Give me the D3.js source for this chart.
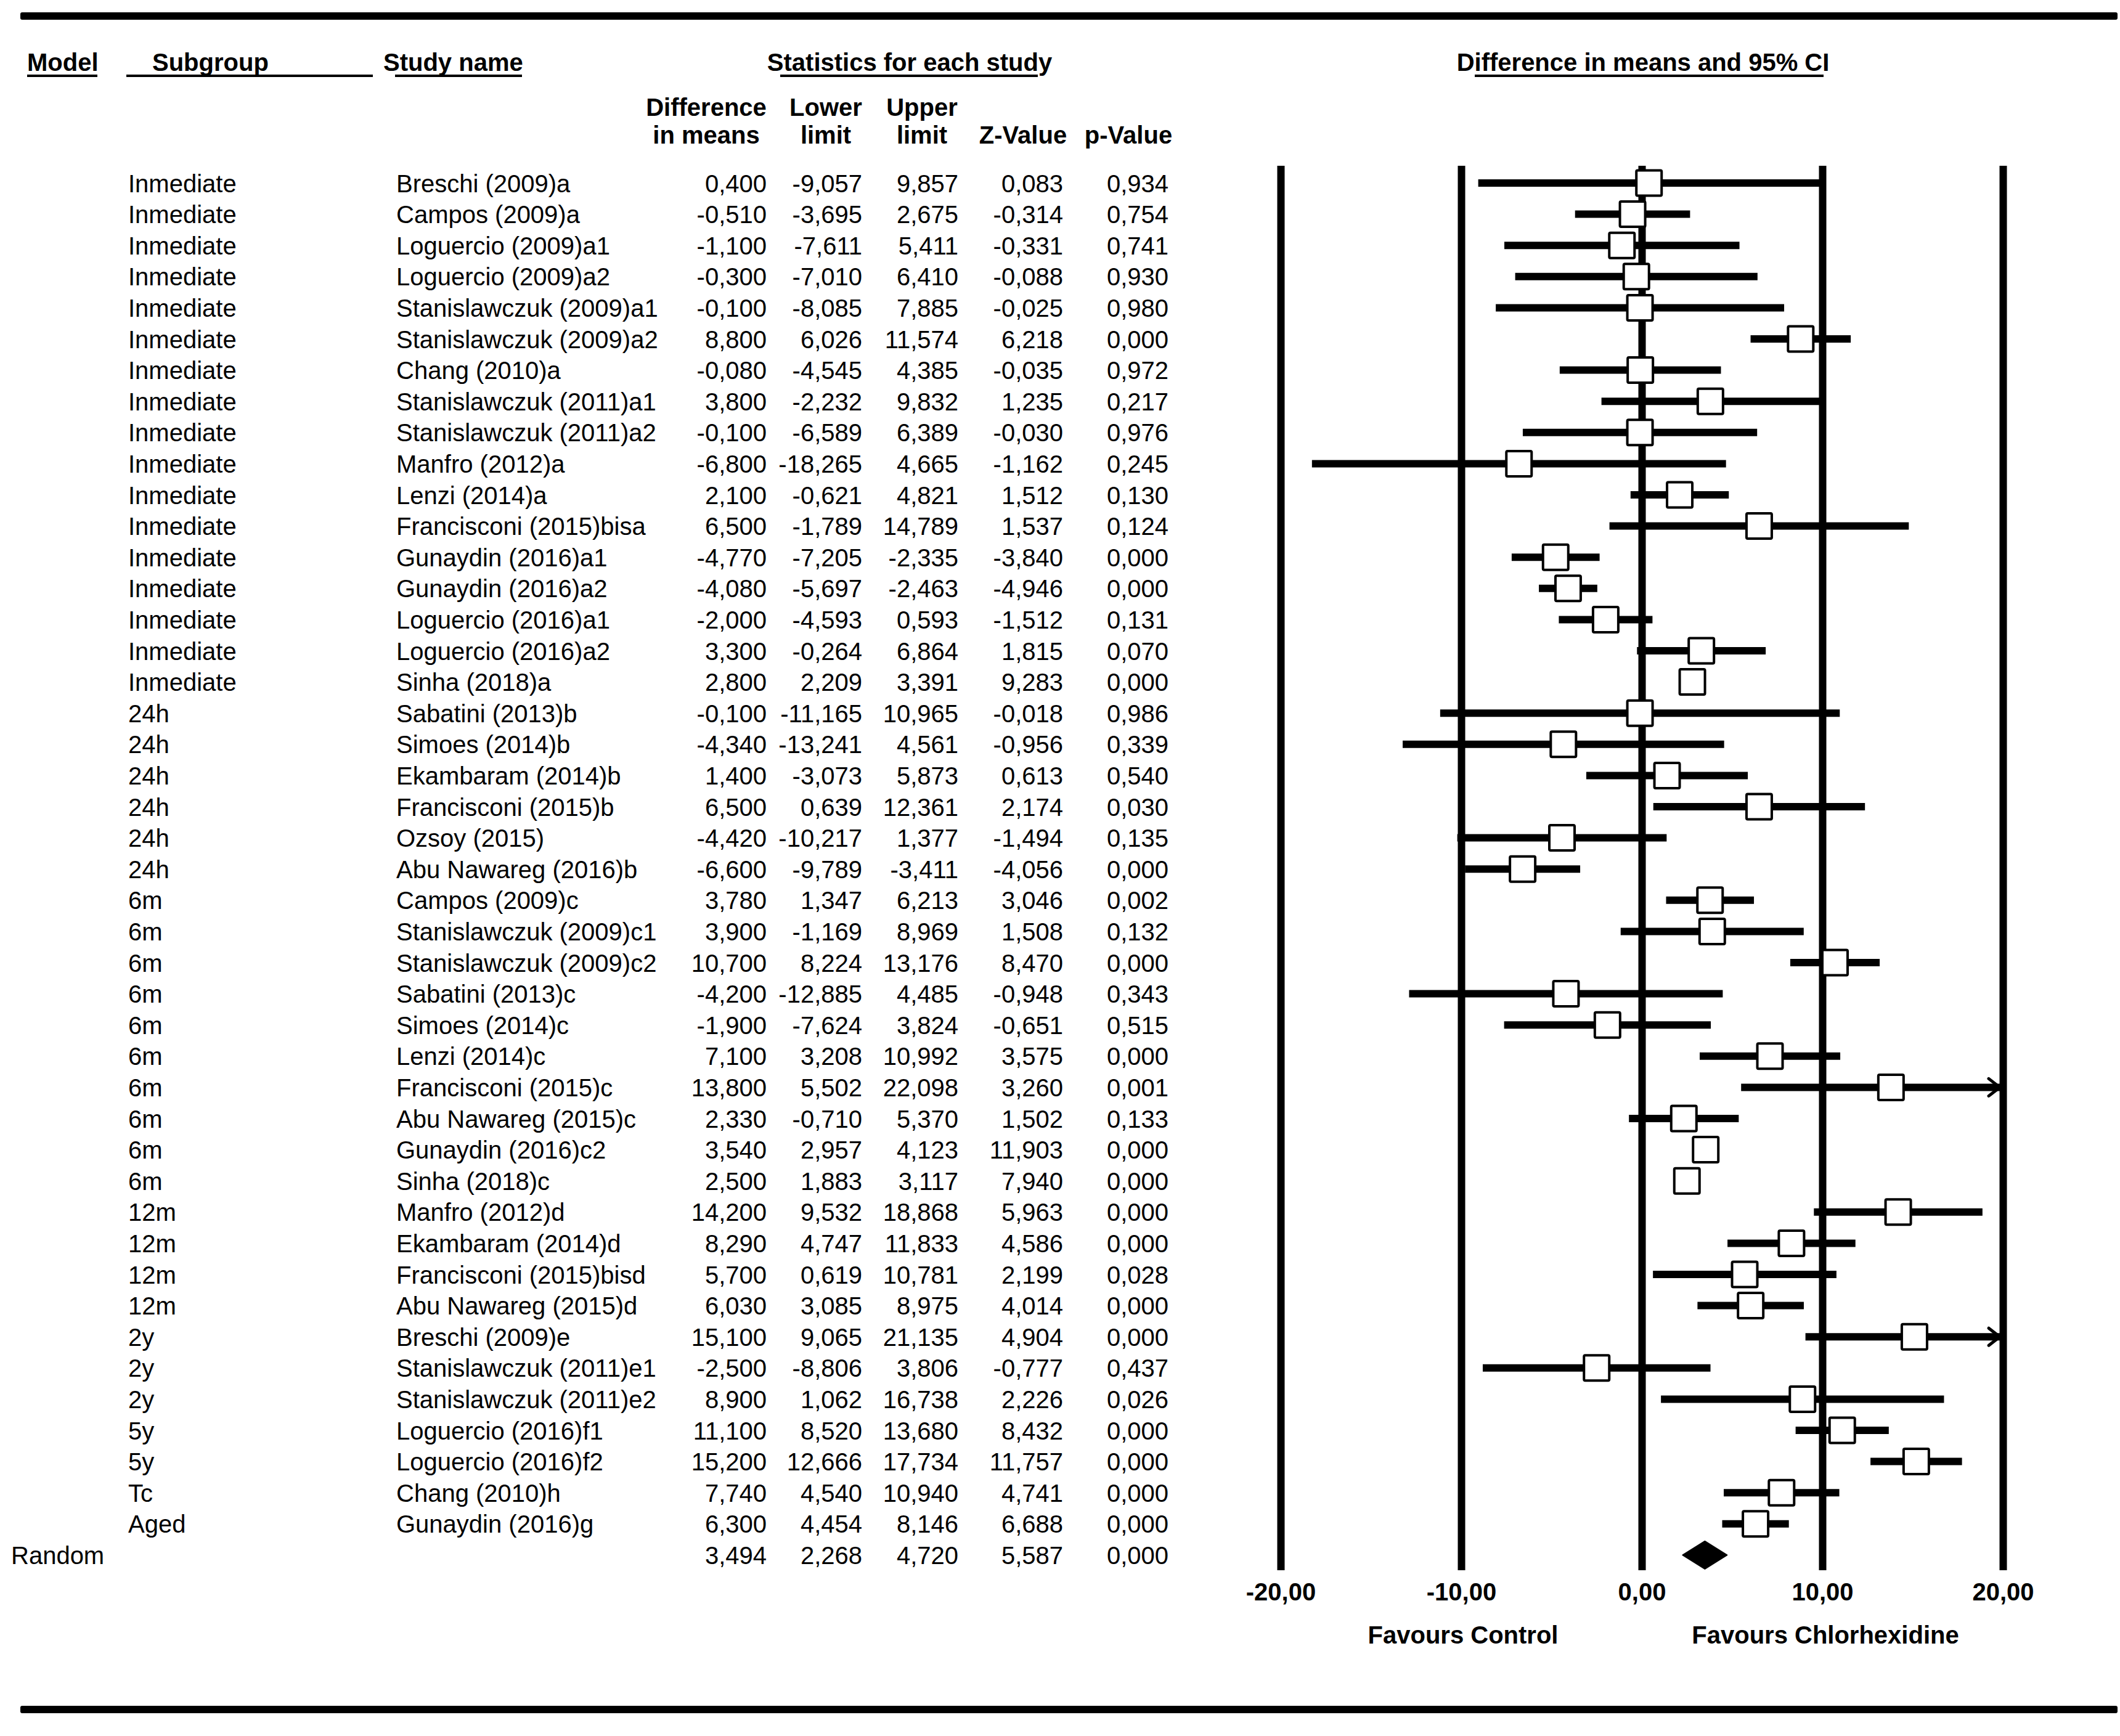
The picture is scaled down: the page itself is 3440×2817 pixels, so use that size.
<!DOCTYPE html>
<html>
<head>
<meta charset="utf-8">
<script src="https://cdnjs.cloudflare.com/ajax/libs/d3/7.8.5/d3.min.js"></script>
<style>
  html, body { margin: 0; padding: 0; background: #fff; }
  svg { display: block; }
  text { font-family: "Liberation Sans", Arial, sans-serif; fill: #000; }
</style>
</head>
<body>
<script>
// ---------------- DATA ----------------
const subgroups = [
  "Inmediate","Inmediate","Inmediate","Inmediate","Inmediate","Inmediate","Inmediate","Inmediate","Inmediate",
  "Inmediate","Inmediate","Inmediate","Inmediate","Inmediate","Inmediate","Inmediate","Inmediate",
  "24h","24h","24h","24h","24h","24h",
  "6m","6m","6m","6m","6m","6m","6m","6m","6m","6m",
  "12m","12m","12m","12m",
  "2y","2y","2y",
  "5y","5y",
  "Tc","Aged"
];
const studies = [
  "Breschi (2009)a","Campos (2009)a","Loguercio (2009)a1","Loguercio (2009)a2","Stanislawczuk (2009)a1",
  "Stanislawczuk (2009)a2","Chang (2010)a","Stanislawczuk (2011)a1","Stanislawczuk (2011)a2","Manfro (2012)a",
  "Lenzi (2014)a","Francisconi (2015)bisa","Gunaydin (2016)a1","Gunaydin (2016)a2","Loguercio (2016)a1",
  "Loguercio (2016)a2","Sinha (2018)a",
  "Sabatini (2013)b","Simoes (2014)b","Ekambaram (2014)b","Francisconi (2015)b","Ozsoy (2015)","Abu Nawareg (2016)b",
  "Campos (2009)c","Stanislawczuk (2009)c1","Stanislawczuk (2009)c2","Sabatini (2013)c","Simoes (2014)c",
  "Lenzi (2014)c","Francisconi (2015)c","Abu Nawareg (2015)c","Gunaydin (2016)c2","Sinha (2018)c",
  "Manfro (2012)d","Ekambaram (2014)d","Francisconi (2015)bisd","Abu Nawareg (2015)d",
  "Breschi (2009)e","Stanislawczuk (2011)e1","Stanislawczuk (2011)e2",
  "Loguercio (2016)f1","Loguercio (2016)f2",
  "Chang (2010)h","Gunaydin (2016)g"
];
const diffMeans = [
  0.400,-0.510,-1.100,-0.300,-0.100,8.800,-0.080,3.800,-0.100,-6.800,2.100,6.500,-4.770,-4.080,-2.000,3.300,2.800,
  -0.100,-4.340,1.400,6.500,-4.420,-6.600,
  3.780,3.900,10.700,-4.200,-1.900,7.100,13.800,2.330,3.540,2.500,
  14.200,8.290,5.700,6.030,
  15.100,-2.500,8.900,
  11.100,15.200,
  7.740,6.300
];
const lowerLimits = [
  -9.057,-3.695,-7.611,-7.010,-8.085,6.026,-4.545,-2.232,-6.589,-18.265,-0.621,-1.789,-7.205,-5.697,-4.593,-0.264,2.209,
  -11.165,-13.241,-3.073,0.639,-10.217,-9.789,
  1.347,-1.169,8.224,-12.885,-7.624,3.208,5.502,-0.710,2.957,1.883,
  9.532,4.747,0.619,3.085,
  9.065,-8.806,1.062,
  8.520,12.666,
  4.540,4.454
];
const upperLimits = [
  9.857,2.675,5.411,6.410,7.885,11.574,4.385,9.832,6.389,4.665,4.821,14.789,-2.335,-2.463,0.593,6.864,3.391,
  10.965,4.561,5.873,12.361,1.377,-3.411,
  6.213,8.969,13.176,4.485,3.824,10.992,22.098,5.370,4.123,3.117,
  18.868,11.833,10.781,8.975,
  21.135,3.806,16.738,
  13.680,17.734,
  10.940,8.146
];
const zValues = [
  0.083,-0.314,-0.331,-0.088,-0.025,6.218,-0.035,1.235,-0.030,-1.162,1.512,1.537,-3.840,-4.946,-1.512,1.815,9.283,
  -0.018,-0.956,0.613,2.174,-1.494,-4.056,
  3.046,1.508,8.470,-0.948,-0.651,3.575,3.260,1.502,11.903,7.940,
  5.963,4.586,2.199,4.014,
  4.904,-0.777,2.226,
  8.432,11.757,
  4.741,6.688
];
const pValues = [
  0.934,0.754,0.741,0.930,0.980,0.000,0.972,0.217,0.976,0.245,0.130,0.124,0.000,0.000,0.131,0.070,0.000,
  0.986,0.339,0.540,0.030,0.135,0.000,
  0.002,0.132,0.000,0.343,0.515,0.000,0.001,0.133,0.000,0.000,
  0.000,0.000,0.028,0.000,
  0.000,0.437,0.026,
  0.000,0.000,
  0.000,0.000
];
const summaryModel = "Random";
const summaryValues = { diff: 3.494, lower: 2.268, upper: 4.720, z: 5.587, p: 0.000 };
const axisTicks = [-20, -10, 0, 10, 20];
const favoursLabels = ["Favours Control", "Favours Chlorhexidine"];

// ---------------- LAYOUT ----------------
const W = 3440, H = 2817;
const FS = 40;
const row0 = 297, rowStep = 50.6;
const nRows = studies.length + 1;
const plotTop = 269, plotBottom = 2548;

const locale = d3.formatLocale({decimal: ",", thousands: ".", grouping: [3], currency: ["", ""], minus: "-"});
const f3 = locale.format(".3f");
const f2 = locale.format(".2f");

const svg = d3.select("body").append("svg")
  .attr("width", W).attr("height", H)
  .attr("viewBox", `0 0 ${W} ${H}`);
svg.append("rect").attr("width", W).attr("height", H).attr("fill", "#fff");

const x = d3.scaleLinear().domain([-20, 20]).range([2078, 3250]);
const yRow = d3.scaleLinear().domain([0, nRows - 1]).range([row0, row0 + rowStep * (nRows - 1)]);

// top and bottom rules
svg.append("rect").attr("x", 33).attr("y", 20).attr("width", 3403).attr("height", 12).attr("rx", 3).attr("fill", "#000");
svg.append("rect").attr("x", 33).attr("y", 2768).attr("width", 3403).attr("height", 12).attr("rx", 3).attr("fill", "#000");

// ---------------- HEADERS ----------------
const hdr = svg.append("g").attr("font-weight", "bold").attr("font-size", FS);
function underline(x1, x2, y) {
  svg.append("rect").attr("x", x1).attr("y", y).attr("width", x2 - x1).attr("height", 4).attr("fill", "#000");
}
hdr.append("text").attr("x", 44).attr("y", 115).text("Model");
underline(44, 158, 121);
hdr.append("text").attr("x", 247).attr("y", 115).text("Subgroup");
underline(205, 605, 121);
hdr.append("text").attr("x", 622).attr("y", 115).text("Study name");
underline(641, 847, 121);
hdr.append("text").attr("x", 1476).attr("y", 115).attr("text-anchor", "middle").text("Statistics for each study");
underline(1266, 1684, 121);
hdr.append("text").attr("x", 2666).attr("y", 115).attr("text-anchor", "middle").text("Difference in means and 95% CI");
underline(2393, 2959, 121);

const colRight = [1244, 1399, 1555, 1725, 1896];
const colHead1 = ["Difference", "Lower", "Upper", "", ""];
const colHead2 = ["in means", "limit", "limit", "Z-Value", "p-Value"];
const colCenter = [1146, 1340, 1496, 1660, 1831];
colHead1.forEach((t, i) => {
  if (t) hdr.append("text").attr("x", colCenter[i]).attr("y", 188).attr("text-anchor", "middle").text(t);
});
colHead2.forEach((t, i) => {
  hdr.append("text").attr("x", colCenter[i]).attr("y", 233).attr("text-anchor", "middle").text(t);
});

// ---------------- TABLE ROWS ----------------
const rows = studies.map((s, i) => ({
  model: "", subgroup: subgroups[i], study: s,
  diff: diffMeans[i], lower: lowerLimits[i], upper: upperLimits[i], z: zValues[i], p: pValues[i], idx: i
}));
const summaryRow = Object.assign({model: summaryModel, subgroup: "", study: "", idx: studies.length}, summaryValues);
const allRows = rows.concat([summaryRow]);

const tbl = svg.append("g").attr("font-size", FS);
const rg = tbl.selectAll("g.row").data(allRows).join("g").attr("class", "row")
  .attr("transform", d => `translate(0,${yRow(d.idx) + 14.5})`);
rg.append("text").attr("x", 18).text(d => d.model);
rg.append("text").attr("x", 208).text(d => d.subgroup);
rg.append("text").attr("x", 643).text(d => d.study);
const keys = ["diff", "lower", "upper", "z", "p"];
keys.forEach((k, ci) => {
  rg.append("text").attr("x", colRight[ci]).attr("text-anchor", "end").text(d => f3(d[k]));
});

// ---------------- FOREST PLOT ----------------
const axis = d3.axisBottom(x)
  .tickValues(axisTicks)
  .tickSizeInner(-(plotBottom - plotTop))
  .tickSizeOuter(0)
  .tickPadding(20.6)
  .tickFormat(d => f2(d));
const ax = svg.append("g").attr("transform", `translate(0,${plotBottom})`).call(axis);
ax.select(".domain").remove();
ax.selectAll(".tick line").attr("stroke", "#000").attr("stroke-width", 12).attr("stroke-linecap", "butt");
ax.selectAll(".tick text")
  .attr("font-family", "'Liberation Sans', Arial, sans-serif")
  .attr("font-size", FS).attr("font-weight", "bold").attr("fill", "#000");
ax.attr("font-size", FS).attr("font-family", "'Liberation Sans', Arial, sans-serif");

const [dMin, dMax] = x.domain();
const clamp = v => Math.max(dMin, Math.min(dMax, v));

const plot = svg.append("g");
// CI lines
plot.selectAll("line.ci").data(rows).join("line").attr("class", "ci")
  .attr("x1", d => x(clamp(d.lower))).attr("x2", d => x(clamp(d.upper)) - (d.upper > dMax ? 5 : 0))
  .attr("y1", d => yRow(d.idx)).attr("y2", d => yRow(d.idx))
  .attr("stroke", "#000").attr("stroke-width", 12);
// arrows for truncated CIs
plot.selectAll("path.arrow").data(rows.filter(d => d.upper > dMax)).join("path").attr("class", "arrow")
  .attr("d", d => {
    const tx = x(dMax) - 5, ty = yRow(d.idx);
    return `M${tx - 18},${ty - 14} L${tx},${ty} L${tx - 18},${ty + 14}`;
  })
  .attr("fill", "none").attr("stroke", "#000").attr("stroke-width", 5).attr("stroke-linecap", "round");
// squares
const sq = 41;
plot.selectAll("rect.pt").data(rows).join("rect").attr("class", "pt")
  .attr("x", d => x(d.diff) - sq / 2).attr("y", d => yRow(d.idx) - sq / 2)
  .attr("width", sq).attr("height", sq).attr("rx", 2)
  .attr("fill", "#fff").attr("stroke", "#000").attr("stroke-width", 4);
// summary diamond
plot.append("path").datum(summaryRow)
  .attr("d", d => {
    const cy = yRow(d.idx), h = 22.5;
    return `M${x(d.lower)},${cy} L${x(d.diff)},${cy - h} L${x(d.upper)},${cy} L${x(d.diff)},${cy + h} Z`;
  })
  .attr("fill", "#000").attr("stroke", "#000").attr("stroke-width", 2).attr("stroke-linejoin", "round");

// favours labels
const fav = svg.append("g").attr("font-weight", "bold").attr("font-size", FS);
fav.append("text").attr("x", 2374).attr("y", 2667).attr("text-anchor", "middle").text(favoursLabels[0]);
fav.append("text").attr("x", 2962).attr("y", 2667).attr("text-anchor", "middle").text(favoursLabels[1]);
</script>
</body>
</html>
